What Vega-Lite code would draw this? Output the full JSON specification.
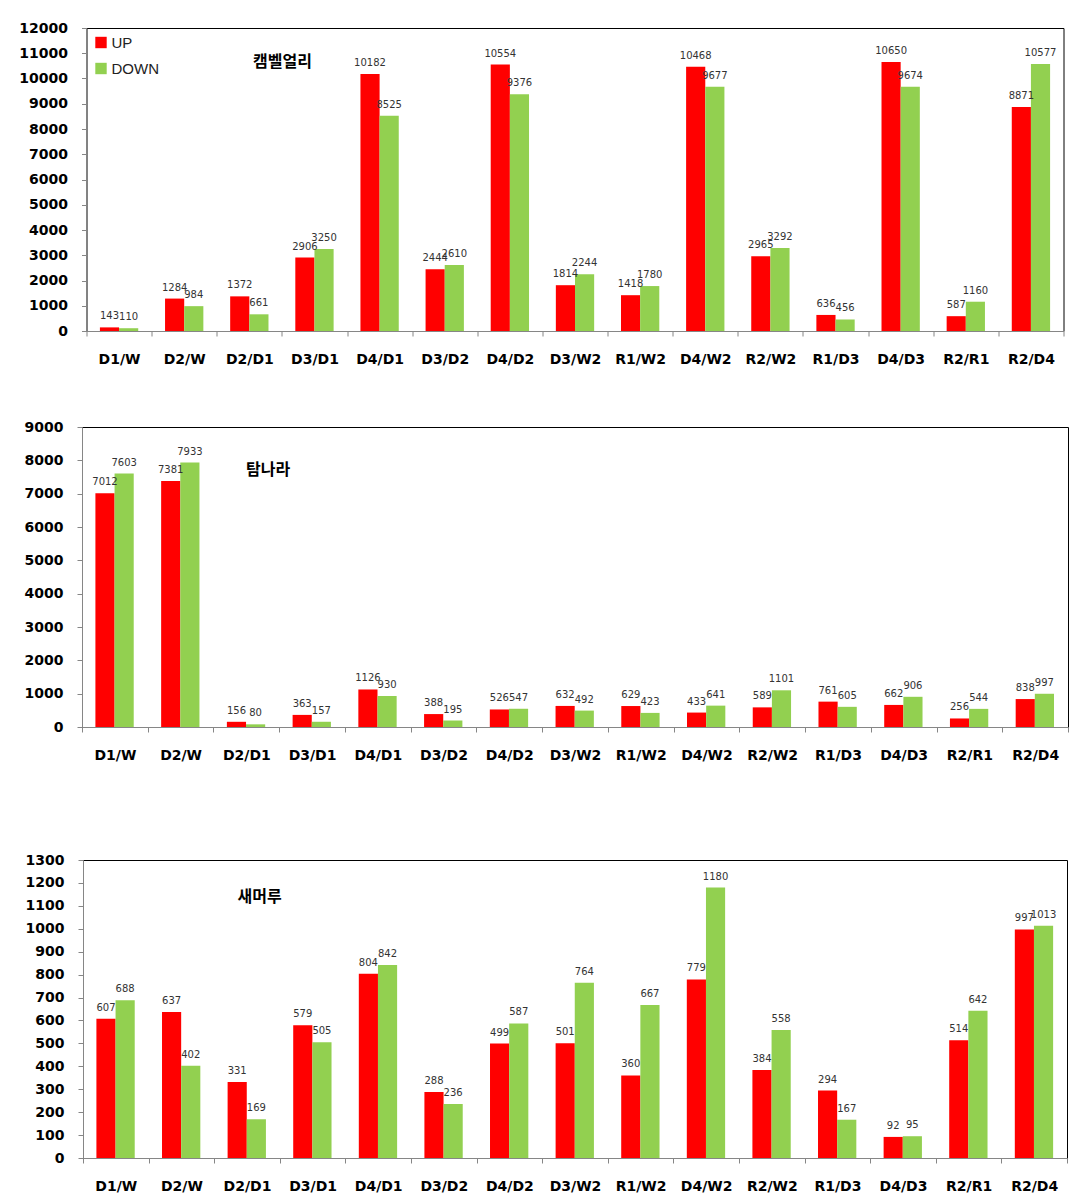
{
  "$schema": "https://vega.github.io/schema/vega-lite/v6.json",
  "background": "white",
  "padding": {"left": 18, "top": 20, "right": 5, "bottom": 5},
  "spacing": 52,
  "center": true,
  "config": {
    "view": {"stroke": "#000", "strokeWidth": 1},
    "axis": {"grid": false, "domainColor": "#868686", "tickColor": "#868686", "tickSize": 5, "labelFont": "DejaVu Sans", "labelFontWeight": "bold", "labelFontSize": 14, "labelColor": "#000", "labelOverlap": false}
  },
  "datasets": {
    "vals": [
      {"panel": "A", "cat": "D1/W", "series": "UP", "value": 143}, {"panel": "A", "cat": "D1/W", "series": "DOWN", "value": 110},
      {"panel": "A", "cat": "D2/W", "series": "UP", "value": 1284}, {"panel": "A", "cat": "D2/W", "series": "DOWN", "value": 984},
      {"panel": "A", "cat": "D2/D1", "series": "UP", "value": 1372}, {"panel": "A", "cat": "D2/D1", "series": "DOWN", "value": 661},
      {"panel": "A", "cat": "D3/D1", "series": "UP", "value": 2906}, {"panel": "A", "cat": "D3/D1", "series": "DOWN", "value": 3250},
      {"panel": "A", "cat": "D4/D1", "series": "UP", "value": 10182}, {"panel": "A", "cat": "D4/D1", "series": "DOWN", "value": 8525},
      {"panel": "A", "cat": "D3/D2", "series": "UP", "value": 2444}, {"panel": "A", "cat": "D3/D2", "series": "DOWN", "value": 2610},
      {"panel": "A", "cat": "D4/D2", "series": "UP", "value": 10554}, {"panel": "A", "cat": "D4/D2", "series": "DOWN", "value": 9376},
      {"panel": "A", "cat": "D3/W2", "series": "UP", "value": 1814}, {"panel": "A", "cat": "D3/W2", "series": "DOWN", "value": 2244},
      {"panel": "A", "cat": "R1/W2", "series": "UP", "value": 1418}, {"panel": "A", "cat": "R1/W2", "series": "DOWN", "value": 1780},
      {"panel": "A", "cat": "D4/W2", "series": "UP", "value": 10468}, {"panel": "A", "cat": "D4/W2", "series": "DOWN", "value": 9677},
      {"panel": "A", "cat": "R2/W2", "series": "UP", "value": 2965}, {"panel": "A", "cat": "R2/W2", "series": "DOWN", "value": 3292},
      {"panel": "A", "cat": "R1/D3", "series": "UP", "value": 636}, {"panel": "A", "cat": "R1/D3", "series": "DOWN", "value": 456},
      {"panel": "A", "cat": "D4/D3", "series": "UP", "value": 10650}, {"panel": "A", "cat": "D4/D3", "series": "DOWN", "value": 9674},
      {"panel": "A", "cat": "R2/R1", "series": "UP", "value": 587}, {"panel": "A", "cat": "R2/R1", "series": "DOWN", "value": 1160},
      {"panel": "A", "cat": "R2/D4", "series": "UP", "value": 8871}, {"panel": "A", "cat": "R2/D4", "series": "DOWN", "value": 10577},

      {"panel": "B", "cat": "D1/W", "series": "UP", "value": 7012}, {"panel": "B", "cat": "D1/W", "series": "DOWN", "value": 7603},
      {"panel": "B", "cat": "D2/W", "series": "UP", "value": 7381}, {"panel": "B", "cat": "D2/W", "series": "DOWN", "value": 7933},
      {"panel": "B", "cat": "D2/D1", "series": "UP", "value": 156}, {"panel": "B", "cat": "D2/D1", "series": "DOWN", "value": 80},
      {"panel": "B", "cat": "D3/D1", "series": "UP", "value": 363}, {"panel": "B", "cat": "D3/D1", "series": "DOWN", "value": 157},
      {"panel": "B", "cat": "D4/D1", "series": "UP", "value": 1126}, {"panel": "B", "cat": "D4/D1", "series": "DOWN", "value": 930},
      {"panel": "B", "cat": "D3/D2", "series": "UP", "value": 388}, {"panel": "B", "cat": "D3/D2", "series": "DOWN", "value": 195},
      {"panel": "B", "cat": "D4/D2", "series": "UP", "value": 526}, {"panel": "B", "cat": "D4/D2", "series": "DOWN", "value": 547},
      {"panel": "B", "cat": "D3/W2", "series": "UP", "value": 632}, {"panel": "B", "cat": "D3/W2", "series": "DOWN", "value": 492},
      {"panel": "B", "cat": "R1/W2", "series": "UP", "value": 629}, {"panel": "B", "cat": "R1/W2", "series": "DOWN", "value": 423},
      {"panel": "B", "cat": "D4/W2", "series": "UP", "value": 433}, {"panel": "B", "cat": "D4/W2", "series": "DOWN", "value": 641},
      {"panel": "B", "cat": "R2/W2", "series": "UP", "value": 589}, {"panel": "B", "cat": "R2/W2", "series": "DOWN", "value": 1101},
      {"panel": "B", "cat": "R1/D3", "series": "UP", "value": 761}, {"panel": "B", "cat": "R1/D3", "series": "DOWN", "value": 605},
      {"panel": "B", "cat": "D4/D3", "series": "UP", "value": 662}, {"panel": "B", "cat": "D4/D3", "series": "DOWN", "value": 906},
      {"panel": "B", "cat": "R2/R1", "series": "UP", "value": 256}, {"panel": "B", "cat": "R2/R1", "series": "DOWN", "value": 544},
      {"panel": "B", "cat": "R2/D4", "series": "UP", "value": 838}, {"panel": "B", "cat": "R2/D4", "series": "DOWN", "value": 997},

      {"panel": "C", "cat": "D1/W", "series": "UP", "value": 607}, {"panel": "C", "cat": "D1/W", "series": "DOWN", "value": 688},
      {"panel": "C", "cat": "D2/W", "series": "UP", "value": 637}, {"panel": "C", "cat": "D2/W", "series": "DOWN", "value": 402},
      {"panel": "C", "cat": "D2/D1", "series": "UP", "value": 331}, {"panel": "C", "cat": "D2/D1", "series": "DOWN", "value": 169},
      {"panel": "C", "cat": "D3/D1", "series": "UP", "value": 579}, {"panel": "C", "cat": "D3/D1", "series": "DOWN", "value": 505},
      {"panel": "C", "cat": "D4/D1", "series": "UP", "value": 804}, {"panel": "C", "cat": "D4/D1", "series": "DOWN", "value": 842},
      {"panel": "C", "cat": "D3/D2", "series": "UP", "value": 288}, {"panel": "C", "cat": "D3/D2", "series": "DOWN", "value": 236},
      {"panel": "C", "cat": "D4/D2", "series": "UP", "value": 499}, {"panel": "C", "cat": "D4/D2", "series": "DOWN", "value": 587},
      {"panel": "C", "cat": "D3/W2", "series": "UP", "value": 501}, {"panel": "C", "cat": "D3/W2", "series": "DOWN", "value": 764},
      {"panel": "C", "cat": "R1/W2", "series": "UP", "value": 360}, {"panel": "C", "cat": "R1/W2", "series": "DOWN", "value": 667},
      {"panel": "C", "cat": "D4/W2", "series": "UP", "value": 779}, {"panel": "C", "cat": "D4/W2", "series": "DOWN", "value": 1180},
      {"panel": "C", "cat": "R2/W2", "series": "UP", "value": 384}, {"panel": "C", "cat": "R2/W2", "series": "DOWN", "value": 558},
      {"panel": "C", "cat": "R1/D3", "series": "UP", "value": 294}, {"panel": "C", "cat": "R1/D3", "series": "DOWN", "value": 167},
      {"panel": "C", "cat": "D4/D3", "series": "UP", "value": 92}, {"panel": "C", "cat": "D4/D3", "series": "DOWN", "value": 95},
      {"panel": "C", "cat": "R2/R1", "series": "UP", "value": 514}, {"panel": "C", "cat": "R2/R1", "series": "DOWN", "value": 642},
      {"panel": "C", "cat": "R2/D4", "series": "UP", "value": 997}, {"panel": "C", "cat": "R2/D4", "series": "DOWN", "value": 1013}
    ],
    "titles": [
      {"panel": "A", "name": "캠벨얼리"},
      {"panel": "B", "name": "탐나라"},
      {"panel": "C", "name": "새머루"}
    ]
  },
  "resolve": {"scale": {"color": "independent", "x": "independent", "y": "independent"}},
  "vconcat": [
    {
      "width": 977, "height": 303,
      "layer": [
        {
          "data": {"name": "vals"},
          "transform": [{"filter": "datum.panel === 'A'"}],
          "mark": {"type": "bar"},
          "encoding": {
            "x": {"field": "cat", "type": "nominal", "sort": null, "title": null, "scale": {"paddingInner": 0, "paddingOuter": 0}, "axis": {"labelAngle": 0, "tickBand": "extent", "labelPadding": 16}},
            "xOffset": {"field": "series", "type": "nominal", "sort": ["UP", "DOWN"], "scale": {"paddingInner": 0, "paddingOuter": 0.7}},
            "y": {"field": "value", "type": "quantitative", "title": null, "scale": {"domain": [0, 12000], "nice": false}, "axis": {"values": [0, 1000, 2000, 3000, 4000, 5000, 6000, 7000, 8000, 9000, 10000, 11000, 12000], "format": "d", "labelPadding": 14}},
            "color": {"field": "series", "type": "nominal", "sort": ["UP", "DOWN"], "scale": {"domain": ["UP", "DOWN"], "range": ["#FF0000", "#92D050"]},
              "legend": {"title": null, "orient": "top-left", "offset": 4, "padding": 3, "symbolType": "square", "symbolSize": 130, "symbolStrokeWidth": 0, "labelFont": "Liberation Sans", "labelFontSize": 15, "labelColor": "#222", "rowPadding": 10, "symbolOffset": 0, "labelOffset": 3}}
          }
        },
        {
          "data": {"name": "vals"},
          "transform": [{"filter": "datum.panel === 'A'"}],
          "mark": {"type": "text", "baseline": "bottom", "dy": -6, "font": "DejaVu Sans", "fontSize": 10, "color": "#333"},
          "encoding": {
            "x": {"field": "cat", "type": "nominal", "sort": null, "title": null, "axis": {"labelAngle": 0, "tickBand": "extent", "labelPadding": 16}},
            "xOffset": {"field": "series", "type": "nominal", "sort": ["UP", "DOWN"]},
            "y": {"field": "value", "type": "quantitative", "title": null, "axis": {"values": [0, 1000, 2000, 3000, 4000, 5000, 6000, 7000, 8000, 9000, 10000, 11000, 12000], "format": "d", "labelPadding": 14}},
            "text": {"field": "value", "type": "quantitative", "format": "d"}
          }
        },
        {
          "data": {"name": "titles"},
          "transform": [{"filter": "datum.panel === 'A'"}],
          "mark": {"type": "text", "font": "Noto Sans CJK KR", "fontWeight": "bold", "fontSize": 16, "color": "#000", "dx": -32},
          "encoding": {
            "x": {"datum": "D3/D1", "type": "nominal", "title": null, "axis": {"labelAngle": 0, "tickBand": "extent", "labelPadding": 16}},
            "y": {"datum": 10650, "type": "quantitative", "title": null, "axis": {"values": [0, 1000, 2000, 3000, 4000, 5000, 6000, 7000, 8000, 9000, 10000, 11000, 12000], "format": "d", "labelPadding": 14}},
            "text": {"field": "name", "type": "nominal"}
          }
        }
      ]
    },
    {
      "width": 986, "height": 300,
      "layer": [
        {
          "data": {"name": "vals"},
          "transform": [{"filter": "datum.panel === 'B'"}],
          "mark": {"type": "bar"},
          "encoding": {
            "x": {"field": "cat", "type": "nominal", "sort": null, "title": null, "scale": {"paddingInner": 0, "paddingOuter": 0}, "axis": {"labelAngle": 0, "tickBand": "extent", "labelPadding": 16}},
            "xOffset": {"field": "series", "type": "nominal", "sort": ["UP", "DOWN"], "scale": {"paddingInner": 0, "paddingOuter": 0.7}},
            "y": {"field": "value", "type": "quantitative", "title": null, "scale": {"domain": [0, 9000], "nice": false}, "axis": {"values": [0, 1000, 2000, 3000, 4000, 5000, 6000, 7000, 8000, 9000], "format": "d", "labelPadding": 14}},
            "color": {"field": "series", "type": "nominal", "sort": ["UP", "DOWN"], "scale": {"domain": ["UP", "DOWN"], "range": ["#FF0000", "#92D050"]}, "legend": null}
          }
        },
        {
          "data": {"name": "vals"},
          "transform": [{"filter": "datum.panel === 'B'"}],
          "mark": {"type": "text", "baseline": "bottom", "dy": -6, "font": "DejaVu Sans", "fontSize": 10, "color": "#333"},
          "encoding": {
            "x": {"field": "cat", "type": "nominal", "sort": null, "title": null, "axis": {"labelAngle": 0, "tickBand": "extent", "labelPadding": 16}},
            "xOffset": {"field": "series", "type": "nominal", "sort": ["UP", "DOWN"]},
            "y": {"field": "value", "type": "quantitative", "title": null, "axis": {"values": [0, 1000, 2000, 3000, 4000, 5000, 6000, 7000, 8000, 9000], "format": "d", "labelPadding": 14}},
            "text": {"field": "value", "type": "quantitative", "format": "d"}
          }
        },
        {
          "data": {"name": "titles"},
          "transform": [{"filter": "datum.panel === 'B'"}],
          "mark": {"type": "text", "font": "Noto Sans CJK KR", "fontWeight": "bold", "fontSize": 16, "color": "#000", "dx": -44},
          "encoding": {
            "x": {"datum": "D3/D1", "type": "nominal", "title": null, "axis": {"labelAngle": 0, "tickBand": "extent", "labelPadding": 16}},
            "y": {"datum": 7710, "type": "quantitative", "title": null, "axis": {"values": [0, 1000, 2000, 3000, 4000, 5000, 6000, 7000, 8000, 9000], "format": "d", "labelPadding": 14}},
            "text": {"field": "name", "type": "nominal"}
          }
        }
      ]
    },
    {
      "width": 984, "height": 298,
      "title": {"text": " ", "fontSize": 20, "offset": 17},
      "layer": [
        {
          "data": {"name": "vals"},
          "transform": [{"filter": "datum.panel === 'C'"}],
          "mark": {"type": "bar"},
          "encoding": {
            "x": {"field": "cat", "type": "nominal", "sort": null, "title": null, "scale": {"paddingInner": 0, "paddingOuter": 0}, "axis": {"labelAngle": 0, "tickBand": "extent", "labelPadding": 16}},
            "xOffset": {"field": "series", "type": "nominal", "sort": ["UP", "DOWN"], "scale": {"paddingInner": 0, "paddingOuter": 0.7}},
            "y": {"field": "value", "type": "quantitative", "title": null, "scale": {"domain": [0, 1300], "nice": false}, "axis": {"values": [0, 100, 200, 300, 400, 500, 600, 700, 800, 900, 1000, 1100, 1200, 1300], "format": "d", "labelPadding": 14}},
            "color": {"field": "series", "type": "nominal", "sort": ["UP", "DOWN"], "scale": {"domain": ["UP", "DOWN"], "range": ["#FF0000", "#92D050"]}, "legend": null}
          }
        },
        {
          "data": {"name": "vals"},
          "transform": [{"filter": "datum.panel === 'C'"}],
          "mark": {"type": "text", "baseline": "bottom", "dy": -6, "font": "DejaVu Sans", "fontSize": 10, "color": "#333"},
          "encoding": {
            "x": {"field": "cat", "type": "nominal", "sort": null, "title": null, "axis": {"labelAngle": 0, "tickBand": "extent", "labelPadding": 16}},
            "xOffset": {"field": "series", "type": "nominal", "sort": ["UP", "DOWN"]},
            "y": {"field": "value", "type": "quantitative", "title": null, "axis": {"values": [0, 100, 200, 300, 400, 500, 600, 700, 800, 900, 1000, 1100, 1200, 1300], "format": "d", "labelPadding": 14}},
            "text": {"field": "value", "type": "quantitative", "format": "d"}
          }
        },
        {
          "data": {"name": "titles"},
          "transform": [{"filter": "datum.panel === 'C'"}],
          "mark": {"type": "text", "font": "Noto Sans CJK KR", "fontWeight": "bold", "fontSize": 16, "color": "#000", "dx": -53},
          "encoding": {
            "x": {"datum": "D3/D1", "type": "nominal", "title": null, "axis": {"labelAngle": 0, "tickBand": "extent", "labelPadding": 16}},
            "y": {"datum": 1139, "type": "quantitative", "title": null, "axis": {"values": [0, 100, 200, 300, 400, 500, 600, 700, 800, 900, 1000, 1100, 1200, 1300], "format": "d", "labelPadding": 14}},
            "text": {"field": "name", "type": "nominal"}
          }
        }
      ]
    }
  ]
}
